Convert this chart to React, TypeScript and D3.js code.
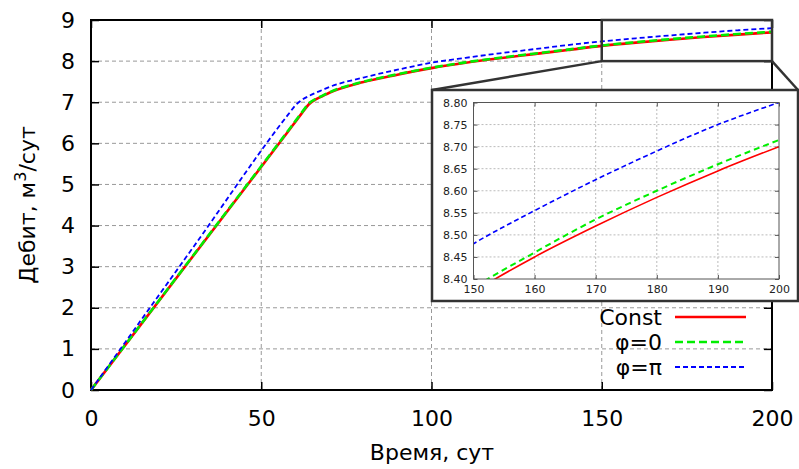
import * as d3 from 'd3';
import React, { useEffect, useRef } from 'react';

// time, days
const days = [0, 30, 58, 60, 62, 64, 66, 68, 70, 80, 90, 100, 110, 120, 130, 140, 150, 160, 170, 180, 190, 200];
// rate, m3/day
const rateConst = [0, 3.26, 6.30, 6.52, 6.74, 6.95, 7.07, 7.15, 7.23, 7.49, 7.67, 7.83, 7.96, 8.07, 8.17, 8.27, 8.37, 8.45, 8.52, 8.585, 8.645, 8.70];
const ratePhi0 = [0, 3.27, 6.32, 6.54, 6.76, 6.97, 7.08, 7.16, 7.24, 7.50, 7.68, 7.84, 7.97, 8.08, 8.18, 8.28, 8.38, 8.46, 8.535, 8.60, 8.66, 8.715];
const ratePhiPi = [0, 3.47, 6.71, 6.92, 7.06, 7.15, 7.23, 7.30, 7.37, 7.60, 7.79, 7.96, 8.08, 8.19, 8.29, 8.39, 8.48, 8.555, 8.625, 8.69, 8.75, 8.80];

const seriesNames = ['Const', 'φ=0', 'φ=π'];
const xTicks = [0, 50, 100, 150, 200];
const yTicks = [0, 1, 2, 3, 4, 5, 6, 7, 8, 9];
const insetXTicks = [150, 160, 170, 180, 190, 200];
const insetYTicks = [8.40, 8.45, 8.50, 8.55, 8.60, 8.65, 8.70, 8.75, 8.80];

const font = '"DejaVu Sans", sans-serif';

function App() {
    const ref = useRef<SVGSVGElement>(null);

    useEffect(() => {
        const svg = d3.select(ref.current);
        svg.selectAll('*').remove();

        const series = [
            { name: seriesNames[0], values: rateConst, color: '#ff0000', dash: null, width: 2.6, insetWidth: 1.6, insetDash: null },
            { name: seriesNames[1], values: ratePhi0, color: '#00ee00', dash: '8,4', width: 2.6, insetWidth: 2, insetDash: '6,4' },
            { name: seriesNames[2], values: ratePhiPi, color: '#0000ff', dash: '5,3', width: 1.8, insetWidth: 1.6, insetDash: '5,3' },
        ];

        // main chart
        const x = d3.scaleLinear().domain([0, 200]).range([91, 772]);
        const y = d3.scaleLinear().domain([0, 9]).range([390, 20]);

        const g = svg.append('g');

        g.selectAll('.vgrid')
            .data(xTicks.slice(1, -1))
            .join('line')
            .attr('x1', d => x(d)).attr('x2', d => x(d))
            .attr('y1', y(0)).attr('y2', y(9))
            .attr('stroke', '#999').attr('stroke-dasharray', '4,3').attr('stroke-width', 1);

        g.selectAll('.hgrid')
            .data(yTicks.slice(1, -1))
            .join('line')
            .attr('x1', x(0)).attr('x2', x(200))
            .attr('y1', d => y(d)).attr('y2', d => y(d))
            .attr('stroke', '#999').attr('stroke-dasharray', '4,3').attr('stroke-width', 1);

        const tickFont = (sel: any, size: number) => sel.call((s: any) => {
            s.select('.domain').remove();
            s.selectAll('text').attr('font-family', font).attr('font-size', size).attr('fill', '#000');
            s.selectAll('line').attr('stroke', '#000').attr('stroke-width', 1.5);
        });

        g.append('g')
            .attr('transform', `translate(0,${y(0)})`)
            .call(d3.axisBottom(x).tickValues(xTicks).tickSize(-8).tickPadding(20).tickFormat(d3.format('d')))
            .call((s: any) => tickFont(s, 22));
        g.append('g')
            .attr('transform', `translate(0,${y(9)})`)
            .call(d3.axisTop(x).tickValues(xTicks).tickSize(-8).tickFormat(() => ''))
            .call((s: any) => tickFont(s, 22));
        g.append('g')
            .attr('transform', `translate(${x(0)},0)`)
            .call(d3.axisLeft(y).tickValues(yTicks).tickSize(-8).tickPadding(16).tickFormat(d3.format('d')))
            .call((s: any) => tickFont(s, 22));
        g.append('g')
            .attr('transform', `translate(${x(200)},0)`)
            .call(d3.axisRight(y).tickValues(yTicks).tickSize(-8).tickFormat(() => ''))
            .call((s: any) => tickFont(s, 22));

        g.append('rect')
            .attr('x', x(0)).attr('y', y(9))
            .attr('width', x(200) - x(0)).attr('height', y(0) - y(9))
            .attr('fill', 'none').attr('stroke', '#000').attr('stroke-width', 2);

        const line = d3.line<number>()
            .x((_, i) => x(days[i]))
            .y(d => y(d))
            .curve(d3.curveMonotoneX);

        series.forEach(s => {
            g.append('path')
                .attr('d', line(s.values))
                .attr('fill', 'none')
                .attr('stroke', s.color)
                .attr('stroke-width', s.width)
                .attr('stroke-dasharray', s.dash);
        });

        // zoom box + connectors
        const zx0 = x(150), zx1 = x(200), zy0 = y(9), zy1 = y(8);
        const ix0 = 432, ix1 = 798, iy0 = 90, iy1 = 301;

        g.append('rect')
            .attr('x', zx0).attr('y', zy0).attr('width', zx1 - zx0).attr('height', zy1 - zy0)
            .attr('fill', 'none').attr('stroke', '#333').attr('stroke-width', 2.5);
        g.append('line').attr('x1', zx0).attr('y1', zy1).attr('x2', ix0).attr('y2', iy0)
            .attr('stroke', '#333').attr('stroke-width', 2.5);
        g.append('line').attr('x1', zx1).attr('y1', zy1).attr('x2', ix1).attr('y2', iy0)
            .attr('stroke', '#333').attr('stroke-width', 2.5);

        // inset
        const inset = svg.append('g');
        inset.append('rect')
            .attr('x', ix0).attr('y', iy0).attr('width', ix1 - ix0).attr('height', iy1 - iy0)
            .attr('fill', '#fff').attr('stroke', '#333').attr('stroke-width', 2.5);

        const xi = d3.scaleLinear().domain([150, 200]).range([473.5, 779]);
        const yi = d3.scaleLinear().domain([8.4, 8.8]).range([279, 102.5]);

        inset.selectAll('.ivgrid')
            .data(insetXTicks.slice(1, -1))
            .join('line')
            .attr('x1', d => xi(d)).attr('x2', d => xi(d))
            .attr('y1', yi(8.4)).attr('y2', yi(8.8))
            .attr('stroke', '#bbb').attr('stroke-dasharray', '2,2').attr('stroke-width', 1);
        inset.selectAll('.ihgrid')
            .data(insetYTicks.slice(1, -1))
            .join('line')
            .attr('x1', xi(150)).attr('x2', xi(200))
            .attr('y1', d => yi(d)).attr('y2', d => yi(d))
            .attr('stroke', '#bbb').attr('stroke-dasharray', '2,2').attr('stroke-width', 1);

        const insetTicks = (s: any) => {
            s.select('.domain').remove();
            s.selectAll('text').attr('font-family', font).attr('font-size', 11).attr('fill', '#222');
            s.selectAll('line').attr('stroke', '#555').attr('stroke-width', 1);
        };
        inset.append('g').attr('transform', `translate(0,${yi(8.4)})`)
            .call(d3.axisBottom(xi).tickValues(insetXTicks).tickSize(-4).tickPadding(6).tickFormat(d3.format('d')))
            .call(insetTicks);
        inset.append('g').attr('transform', `translate(0,${yi(8.8)})`)
            .call(d3.axisTop(xi).tickValues(insetXTicks).tickSize(-4).tickFormat(() => ''))
            .call(insetTicks);
        inset.append('g').attr('transform', `translate(${xi(150)},0)`)
            .call(d3.axisLeft(yi).tickValues(insetYTicks).tickSize(-4).tickPadding(6).tickFormat(d3.format('.2f')))
            .call(insetTicks);
        inset.append('g').attr('transform', `translate(${xi(200)},0)`)
            .call(d3.axisRight(yi).tickValues(insetYTicks).tickSize(-4).tickFormat(() => ''))
            .call(insetTicks);

        svg.append('defs').append('clipPath').attr('id', 'insetClip')
            .append('rect')
            .attr('x', xi(150)).attr('y', yi(8.8))
            .attr('width', xi(200) - xi(150)).attr('height', yi(8.4) - yi(8.8));

        const iline = d3.line<number>()
            .x((_, i) => xi(days[i]))
            .y(d => yi(d))
            .curve(d3.curveMonotoneX);

        series.forEach(s => {
            inset.append('path')
                .attr('clip-path', 'url(#insetClip)')
                .attr('d', iline(s.values))
                .attr('fill', 'none')
                .attr('stroke', s.color)
                .attr('stroke-width', s.insetWidth)
                .attr('stroke-dasharray', s.insetDash);
        });

        inset.append('rect')
            .attr('x', xi(150)).attr('y', yi(8.8))
            .attr('width', xi(200) - xi(150)).attr('height', yi(8.4) - yi(8.8))
            .attr('fill', 'none').attr('stroke', '#555').attr('stroke-width', 1);

        // legend
        const legend = svg.append('g');
        series.forEach((s, i) => {
            const ly = 317 + i * 25;
            legend.append('text')
                .attr('x', 662).attr('y', ly)
                .attr('dy', '0.35em')
                .attr('text-anchor', 'end')
                .attr('font-family', font).attr('font-size', 22)
                .text(s.name);
            legend.append('line')
                .attr('x1', 675).attr('x2', 746)
                .attr('y1', ly).attr('y2', ly)
                .attr('stroke', s.color)
                .attr('stroke-width', s.width)
                .attr('stroke-dasharray', s.dash);
        });

        // axis titles
        svg.append('text')
            .attr('x', 432).attr('y', 460)
            .attr('text-anchor', 'middle')
            .attr('font-family', font).attr('font-size', 22)
            .text('Время, сут');

        const yl = svg.append('text')
            .attr('transform', 'translate(35,205) rotate(-90)')
            .attr('text-anchor', 'middle')
            .attr('font-family', font).attr('font-size', 22);
        yl.append('tspan').text('Дебит, м');
        yl.append('tspan').attr('dy', -9).attr('font-size', 16).text('3');
        yl.append('tspan').attr('dy', 9).text('/сут');
    }, []);

    return (
        <svg ref={ref} width={799} height={469}
            style={{ position: 'absolute', left: 0, top: 0, background: '#fff' }} />
    );
}

export default App;
